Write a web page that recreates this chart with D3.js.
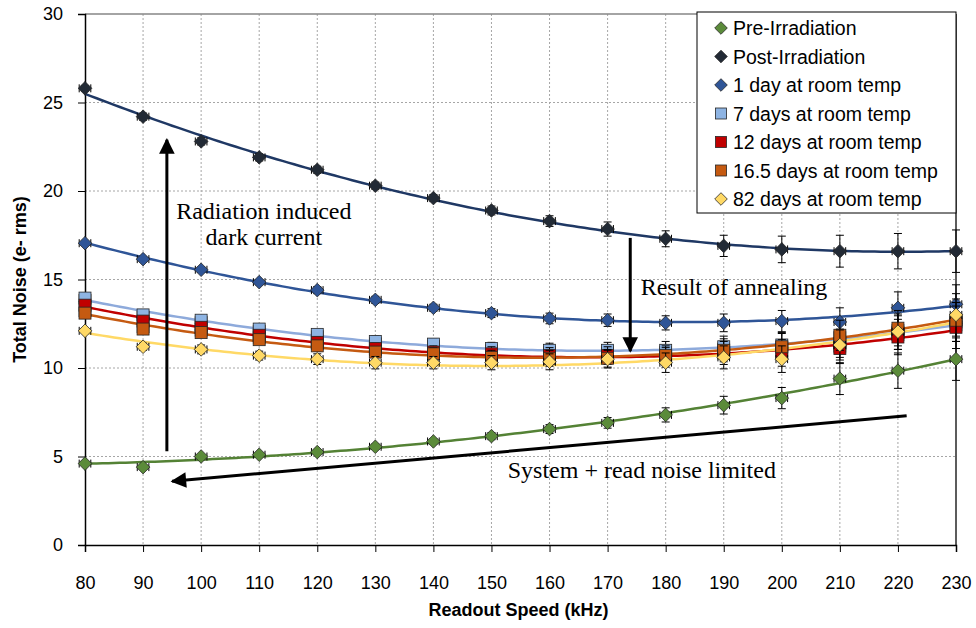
<!DOCTYPE html>
<html><head><meta charset="utf-8">
<script src="https://cdn.jsdelivr.net/npm/d3@7"></script>
<style>body{margin:0;background:#fff}</style>
</head><body><svg id="c" width="976" height="628"></svg>
<script>
// ---------- DATA ----------
const speeds = [80, 90, 100, 110, 120, 130, 140, 150, 160, 170, 180, 190, 200, 210, 220, 230];
const xTicks = [80, 90, 100, 110, 120, 130, 140, 150, 160, 170, 180, 190, 200, 210, 220, 230];
const yTicks = [0, 5, 10, 15, 20, 25, 30];

const preIrradiation  = [4.6, 4.4, 5.0, 5.1, 5.25, 5.55, 5.85, 6.15, 6.55, 6.9, 7.35, 7.9, 8.3, 9.4, 9.85, 10.5];
const postIrradiation = [25.8, 24.2, 22.8, 21.9, 21.2, 20.3, 19.6, 18.9, 18.3, 17.85, 17.3, 16.9, 16.7, 16.6, 16.6, 16.6];
const day1  = [17.05, 16.15, 15.55, 14.85, 14.4, 13.85, 13.4, 13.1, 12.8, 12.7, 12.55, 12.55, 12.65, 12.6, 13.4, 13.6];
const day7  = [13.95, 13.0, 12.7, 12.2, 11.9, 11.5, 11.35, 11.1, 11.0, 11.0, 11.0, 11.2, 11.3, 11.4, 12.0, 12.6];
const day12 = [13.55, 12.65, 12.3, 11.85, 11.45, 11.1, 10.9, 10.8, 10.7, 10.7, 10.6, 10.85, 10.85, 11.1, 11.75, 12.3];
const day16 = [13.1, 12.2, 12.0, 11.6, 11.25, 10.9, 10.8, 10.6, 10.55, 10.55, 10.7, 11.0, 11.2, 11.85, 12.25, 12.7];
const day82 = [12.1, 11.2, 11.05, 10.7, 10.5, 10.3, 10.3, 10.3, 10.35, 10.5, 10.3, 10.6, 10.5, 11.3, 12.05, 13.0];

const errPre   = [0.1, 0.1, 0.1, 0.1, 0.1, 0.15, 0.15, 0.2, 0.25, 0.3, 0.4, 0.5, 0.6, 0.9, 1.0, 1.2];
const errPost  = [0.15, 0.2, 0.2, 0.2, 0.2, 0.2, 0.2, 0.25, 0.3, 0.4, 0.45, 0.6, 0.75, 0.9, 1.0, 1.2];
const errDay1  = [0.1, 0.15, 0.15, 0.15, 0.2, 0.2, 0.2, 0.25, 0.3, 0.35, 0.4, 0.5, 0.6, 0.8, 0.9, 1.1];
const errDay7  = [0.1, 0.15, 0.2, 0.2, 0.25, 0.3, 0.3, 0.35, 0.4, 0.45, 0.5, 0.6, 0.7, 0.8, 0.95, 1.1];
const errDay12 = [0.1, 0.15, 0.2, 0.25, 0.3, 0.3, 0.35, 0.4, 0.45, 0.5, 0.55, 0.65, 0.75, 0.85, 1.0, 1.2];
const errDay16 = [0.1, 0.15, 0.2, 0.25, 0.3, 0.3, 0.35, 0.4, 0.45, 0.5, 0.55, 0.65, 0.75, 0.85, 1.0, 1.2];
const errDay82 = [0.1, 0.2, 0.25, 0.25, 0.3, 0.35, 0.35, 0.4, 0.45, 0.5, 0.55, 0.65, 0.75, 0.85, 1.0, 1.2];
const xErr = 1.0;

const seriesNames  = ["Pre-Irradiation", "Post-Irradiation", "1 day at room temp", "7 days at room temp", "12 days at room temp", "16.5 days at room temp", "82 days at room temp"];
const seriesValues = [preIrradiation, postIrradiation, day1, day7, day12, day16, day82];
const seriesErrors = [errPre, errPost, errDay1, errDay7, errDay12, errDay16, errDay82];
const seriesShapes = ["diamond", "diamond", "diamond", "square", "square", "square", "diamond"];
const markerColors = ["#5b8b3a", "#222a35", "#2f5597", "#8eb4e3", "#c00000", "#c55a11", "#ffd966"];
const lineColors   = ["#548235", "#1f3864", "#2f5597", "#8eaadb", "#c00000", "#c55a11", "#ffd966"];

// ---------- CHART ----------
const svg = d3.select("#c");
const L = 85, R = 956, T = 14, B = 545;
const x = d3.scaleLinear().domain([80, 230]).range([L, R]);
const y = d3.scaleLinear().domain([0, 30]).range([B, T]);
const sans = "'Liberation Sans', Arial, sans-serif";
const serif = "'Liberation Serif', 'Times New Roman', serif";

// grid
const grid = svg.append("g");
xTicks.filter(t => t > 80 && t < 230).forEach(t => {
  grid.append("line").attr("x1", x(t)).attr("x2", x(t)).attr("y1", T).attr("y2", B)
    .attr("stroke", "#a6a6a6").attr("stroke-width", 1).attr("stroke-dasharray", "2,2");
});
yTicks.filter(t => t > 0 && t < 30).forEach(t => {
  grid.append("line").attr("x1", L).attr("x2", R).attr("y1", y(t)).attr("y2", y(t))
    .attr("stroke", "#a6a6a6").attr("stroke-width", 1).attr("stroke-dasharray", "2,2");
});
grid.append("line").attr("x1", L).attr("x2", R).attr("y1", y(30)).attr("y2", y(30))
  .attr("stroke", "#868686").attr("stroke-width", 1.5);
grid.append("line").attr("x1", x(230)).attr("x2", x(230)).attr("y1", T).attr("y2", B)
  .attr("stroke", "#262626").attr("stroke-width", 1.5);

// axes
const yAxis = svg.append("g").attr("transform", `translate(${L},0)`)
  .call(d3.axisLeft(y).tickValues(yTicks).tickSize(7).tickPadding(15).tickFormat(d3.format("d")));
const xAxis = svg.append("g").attr("transform", `translate(0,${B})`)
  .call(d3.axisBottom(x).tickValues(xTicks).tickSize(7).tickPadding(24).tickFormat(d3.format("d")));
[xAxis, yAxis].forEach(a => {
  a.select(".domain").attr("stroke", "#000").attr("stroke-width", 1.5);
  a.selectAll(".tick line").attr("stroke", "#000").attr("stroke-width", 1);
  a.selectAll(".tick text").attr("font-family", sans).attr("font-size", 18).attr("fill", "#000");
});

// axis titles
svg.append("text").attr("x", (L + R) / 2 - 2).attr("y", 616).attr("text-anchor", "middle")
  .attr("font-family", sans).attr("font-size", 18).attr("font-weight", "bold").text("Readout Speed (kHz)");
svg.append("text").attr("transform", `translate(26,${(T + B) / 2}) rotate(-90)`).attr("text-anchor", "middle")
  .attr("font-family", sans).attr("font-size", 18).attr("font-weight", "bold").text("Total Noise (e- rms)");

// quadratic least-squares trend line (like the spreadsheet's polynomial trendline)
function quadFit(xs, ys) {
  const c = 155, s = 75;
  let S = [0, 0, 0, 0, 0], T2 = [0, 0, 0];
  xs.forEach((xv, i) => {
    const u = (xv - c) / s;
    for (let k = 0; k < 5; k++) S[k] += Math.pow(u, k);
    for (let k = 0; k < 3; k++) T2[k] += ys[i] * Math.pow(u, k);
  });
  const A = [[S[0], S[1], S[2], T2[0]], [S[1], S[2], S[3], T2[1]], [S[2], S[3], S[4], T2[2]]];
  for (let i = 0; i < 3; i++) {
    for (let j = i + 1; j < 3; j++) {
      const f = A[j][i] / A[i][i];
      for (let k = i; k < 4; k++) A[j][k] -= f * A[i][k];
    }
  }
  const b = [0, 0, 0];
  for (let i = 2; i >= 0; i--) {
    let v = A[i][3];
    for (let k = i + 1; k < 3; k++) v -= A[i][k] * b[k];
    b[i] = v / A[i][i];
  }
  return xv => { const u = (xv - c) / s; return b[0] + b[1] * u + b[2] * u * u; };
}
const samples = d3.range(80, 230.01, 1);
const lineGen = d3.line().x(d => x(d[0])).y(d => y(d[1]));
const trends = svg.append("g");
seriesValues.forEach((vals, i) => {
  const f = quadFit(speeds, vals);
  trends.append("path").attr("d", lineGen(samples.map(s => [s, f(s)])))
    .attr("fill", "none").attr("stroke", lineColors[i]).attr("stroke-width", 2.5);
});

// error bars + markers
function drawMarker(g, shape, cx, cy, fill, size) {
  if (shape === "diamond") {
    const h = size / 2 + 0.8;
    g.append("path").attr("d", `M${cx},${cy - h}L${cx + h},${cy}L${cx},${cy + h}L${cx - h},${cy}Z`)
      .attr("fill", fill).attr("stroke", "#262626").attr("stroke-width", 0.8);
  } else {
    g.append("rect").attr("x", cx - size / 2).attr("y", cy - size / 2).attr("width", size).attr("height", size)
      .attr("fill", fill).attr("stroke", "#262626").attr("stroke-width", 0.8);
  }
}
seriesValues.forEach((vals, i) => {
  const g = svg.append("g");
  vals.forEach((v, j) => {
    const cx = x(speeds[j]), cy = y(v), e = seriesErrors[i][j];
    const y1 = y(v + e), y2 = y(v - e);
    g.append("line").attr("x1", cx).attr("x2", cx).attr("y1", y1).attr("y2", y2).attr("stroke", "#000").attr("stroke-width", 1);
    [y1, y2].forEach(yy => g.append("line").attr("x1", cx - 4).attr("x2", cx + 4).attr("y1", yy).attr("y2", yy).attr("stroke", "#000").attr("stroke-width", 1));
    const xl = x(speeds[j] - xErr), xr = x(speeds[j] + xErr);
    g.append("line").attr("x1", xl).attr("x2", xr).attr("y1", cy).attr("y2", cy).attr("stroke", "#000").attr("stroke-width", 1);
    [xl, xr].forEach(xx => g.append("line").attr("x1", xx).attr("x2", xx).attr("y1", cy - 4).attr("y2", cy + 4).attr("stroke", "#000").attr("stroke-width", 1));
  });
  vals.forEach((v, j) => drawMarker(g, seriesShapes[i], x(speeds[j]), y(v), markerColors[i], 12));
});

// annotations
const defs = svg.append("defs");
defs.append("marker").attr("id", "ah").attr("viewBox", "0 0 10 10").attr("refX", 9).attr("refY", 5)
  .attr("markerWidth", 6).attr("markerHeight", 5.2).attr("markerUnits", "strokeWidth").attr("orient", "auto")
  .append("path").attr("d", "M0,0L10,5L0,10Z").attr("fill", "#000");
const arrows = [
  {x1: 94.1, y1: 5.3, x2: 94.1, y2: 22.9},
  {x1: 173.9, y1: 17.35, x2: 173.9, y2: 10.95},
  {x1: 221.5, y1: 7.3, x2: 95.0, y2: 3.6}
];
arrows.forEach(a => {
  svg.append("line").attr("x1", x(a.x1)).attr("y1", y(a.y1)).attr("x2", x(a.x2)).attr("y2", y(a.y2))
    .attr("stroke", "#000").attr("stroke-width", 3).attr("marker-end", "url(#ah)");
});
const notes = [
  {x: 110.8, y: 18.4, text: "Radiation induced", anchor: "middle"},
  {x: 110.8, y: 16.95, text: "dark current", anchor: "middle"},
  {x: 175.7, y: 14.15, text: "Result of annealing", anchor: "start"},
  {x: 175.9, y: 3.8, text: "System + read noise limited", anchor: "middle"}
];
notes.forEach(n => {
  svg.append("text").attr("x", x(n.x)).attr("y", y(n.y)).attr("text-anchor", n.anchor)
    .attr("font-family", serif).attr("font-size", 24).attr("fill", "#000").text(n.text);
});

// legend
const lg = svg.append("g");
lg.append("rect").attr("x", 697).attr("y", 12).attr("width", 259).attr("height", 201)
  .attr("fill", "#fff").attr("stroke", "#000").attr("stroke-width", 1);
seriesNames.forEach((name, i) => {
  const cy = 28 + i * 28.5;
  drawMarker(lg, seriesShapes[i], 721, cy, markerColors[i], 11);
  lg.append("text").attr("x", 733).attr("y", cy + 7).attr("font-family", sans).attr("font-size", 19.5)
    .attr("fill", "#000").text(name);
});
</script></body></html>
